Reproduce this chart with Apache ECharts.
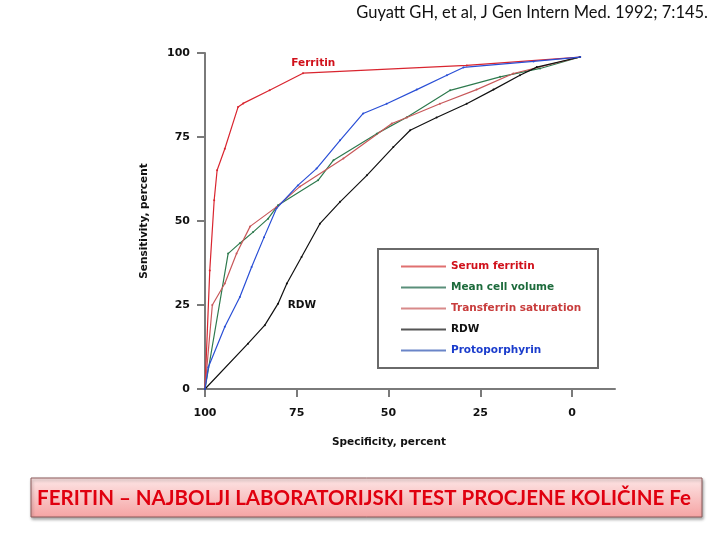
<!DOCTYPE html>
<html>
<head>
<meta charset="utf-8">
<script src="https://cdn.jsdelivr.net/npm/echarts@6/dist/echarts.min.js"></script>
<style>
  html, body { margin: 0; padding: 0; background: #fff; }
  #chart { width: 720px; height: 540px; }
</style>
</head>
<body>
<div id="chart"></div>
<script>
// [specificity, sensitivity] pairs
const serumFerritin = [[100, 0], [98.7, 35.3], [97.5, 56.2], [96.7, 65.1], [94.6, 71.5], [91.0, 83.9],
  [89.6, 85.0], [82.4, 88.9], [73.3, 94.0], [28.7, 96.3], [-2.2, 98.8]]
const meanCellVolume = [[100, 0], [93.7, 40.3], [90.5, 43.4], [86.9, 46.7], [82.8, 50.7], [80.1, 54.7],
  [69.2, 62.1], [65.0, 68.1], [53.2, 76.0], [45.0, 80.9], [33.2, 88.9], [19.6, 92.9], [8.7, 95.4], [-2.2, 98.8]]
const transferrinSat = [[100, 0], [98.0, 25.0], [94.6, 31.4], [91.4, 40.3], [87.7, 48.4], [80.5, 54.2],
  [74.1, 60.3], [62.3, 68.6], [49.1, 79.0], [45.0, 80.8], [36.0, 84.9], [26.0, 89.1], [16.0, 93.9], [-2.2, 98.8]]
const rdw = [[100, 0], [88.3, 13.5], [83.7, 19.0], [80.1, 25.4], [77.7, 31.4], [73.7, 39.3], [68.7, 49.2],
  [63.2, 55.7], [55.9, 63.6], [48.7, 72.0], [44.1, 77.0], [36.9, 80.8], [28.7, 84.9], [21.4, 89.1],
  [14.2, 93.4], [9.6, 95.8], [-2.2, 98.8]]
const protoporphyrin = [[100, 0], [99.1, 6.5], [94.6, 18.5], [90.5, 27.4], [87.3, 36.3], [83.9, 45.2],
  [80.5, 53.8], [74.7, 60.6], [69.6, 65.6], [63.2, 74.0], [56.9, 82.0], [50.5, 84.9], [42.3, 89.1],
  [34.1, 93.4], [29.6, 95.7], [10.5, 97.5], [-2.2, 98.8]]

const tickValues = [0, 25, 50, 75, 100]

const chart = echarts.init(document.getElementById("chart"))

const boldFont = "DejaVu Sans"
const axisColor = "#7a7a7a"

function lineSeries(name, data, color, width) {
  return {
    name: name,
    type: "line",
    data: data,
    symbol: "circle",
    symbolSize: 2,
    itemStyle: { color: color },
    lineStyle: { color: color, width: width || 1.2 },
    animation: false
  }
}

const ferritinSeries = lineSeries("Serum ferritin", serumFerritin, "#d9252f")
ferritinSeries.markPoint = {
  symbol: "circle",
  symbolSize: 0,
  data: [{ coord: [70.5, 96.9], value: "Ferritin" }],
  label: { show: true, formatter: "Ferritin", color: "#d0101a", fontFamily: boldFont, fontWeight: "bold", fontSize: 10.5 }
}
const rdwSeries = lineSeries("RDW", rdw, "#111111")
rdwSeries.markPoint = {
  symbol: "circle",
  symbolSize: 0,
  data: [{ coord: [73.6, 25.0], value: "RDW" }],
  label: { show: true, formatter: "RDW", color: "#111", fontFamily: boldFont, fontWeight: "bold", fontSize: 10.5 }
}

const option = {
  backgroundColor: "#fff",
  grid: { left: 205, right: 105, top: 53, bottom: 151 },
  xAxis: {
    type: "value",
    inverse: true,
    min: -11.7,
    max: 100,
    name: "Specificity, percent",
    nameLocation: "middle",
    nameGap: 48,
    nameTextStyle: { fontFamily: boldFont, fontWeight: "bold", fontSize: 10.5, color: "#111", padding: [0, 42, 0, 0] },
    axisLine: { onZero: false, lineStyle: { color: axisColor, width: 2 } },
    axisTick: { show: true, length: 8, customValues: tickValues, lineStyle: { color: axisColor, width: 2 } },
    axisLabel: { customValues: tickValues, margin: 19, fontFamily: boldFont, fontWeight: "bold", fontSize: 11, color: "#111" },
    splitLine: { show: false }
  },
  yAxis: {
    type: "value",
    min: 0,
    max: 100,
    interval: 25,
    name: "Sensitivity, percent",
    nameLocation: "middle",
    nameRotate: 90,
    nameGap: 55,
    nameTextStyle: { fontFamily: boldFont, fontWeight: "bold", fontSize: 10.5, color: "#111" },
    axisLine: { show: true, onZero: false, lineStyle: { color: axisColor, width: 2 } },
    axisTick: { show: true, length: 8, lineStyle: { color: axisColor, width: 2 } },
    axisLabel: { margin: 15, fontFamily: boldFont, fontWeight: "bold", fontSize: 11, color: "#111" },
    splitLine: { show: false }
  },
  legend: {
    orient: "vertical",
    left: 396,
    top: 256,
    icon: "rect",
    itemWidth: 45,
    itemHeight: 2,
    itemGap: 10,
    selectedMode: false,
    textStyle: { fontFamily: boldFont, fontWeight: "bold", fontSize: 10.5 },
    data: [
      { name: "Serum ferritin", itemStyle: { color: "#e07070" }, textStyle: { color: "#d0101a" } },
      { name: "Mean cell volume", itemStyle: { color: "#5a8f7a" }, textStyle: { color: "#1d6b3c" } },
      { name: "Transferrin saturation", itemStyle: { color: "#d88a8a" }, textStyle: { color: "#c83c3c" } },
      { name: "RDW", itemStyle: { color: "#555" }, textStyle: { color: "#111" } },
      { name: "Protoporphyrin", itemStyle: { color: "#6a85c8" }, textStyle: { color: "#1a3ccc" } }
    ]
  },
  graphic: [
    {
      type: "rect",
      shape: { x: 378, y: 249, width: 220, height: 119 },
      style: { fill: "none", stroke: "#6a6a6a", lineWidth: 2 },
      z: 1
    },
    {
      type: "text",
      right: 12,
      top: 4,
      style: { text: "Guyatt GH, et al, J Gen Intern Med. 1992; 7:145.", font: "16.5px Lato", fill: "#111" }
    },
    {
      type: "rect",
      shape: { x: 31, y: 478, width: 671, height: 39 },
      style: {
        fill: new echarts.graphic.LinearGradient(0, 0, 0, 1, [
          { offset: 0, color: "#fde6e6" },
          { offset: 1, color: "#f5a3a3" }
        ]),
        stroke: "#8c5a5a",
        lineWidth: 1,
        shadowBlur: 3,
        shadowOffsetX: 1,
        shadowOffsetY: 2,
        shadowColor: "rgba(0,0,0,0.35)"
      }
    },
    {
      type: "text",
      x: 364,
      y: 498,
      style: {
        text: "FERITIN – NAJBOLJI LABORATORIJSKI TEST PROCJENE KOLIČINE Fe",
        font: "bold 20.5px Lato",
        fill: "#e0000f",
        align: "center",
        verticalAlign: "middle"
      }
    }
  ],
  series: [
    ferritinSeries,
    lineSeries("Mean cell volume", meanCellVolume, "#2e7a4e"),
    lineSeries("Transferrin saturation", transferrinSat, "#c8585a"),
    rdwSeries,
    lineSeries("Protoporphyrin", protoporphyrin, "#2a4fd6")
  ]
}

chart.setOption(option)
</script>
</body>
</html>
